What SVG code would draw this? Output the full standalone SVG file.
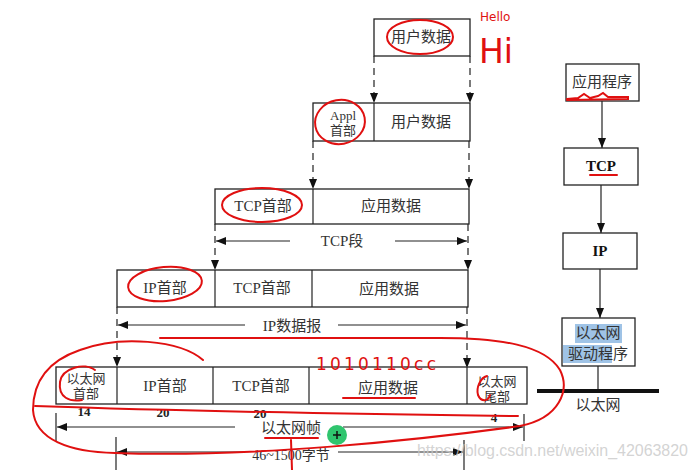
<svg xmlns="http://www.w3.org/2000/svg" width="698" height="470" viewBox="0 0 698 470">
<defs>
<marker id="ah" viewBox="0 0 10 8" refX="10" refY="4" markerWidth="10" markerHeight="8" markerUnits="userSpaceOnUse" orient="auto">
<path d="M0,0 L10,4 L0,8 Z" fill="#111"/>
</marker>
</defs>
<style>
.box{fill:#fff;stroke:#222;stroke-width:1.3}
.t{font-family:"Liberation Serif","Noto Sans CJK SC",serif;font-size:15px;fill:#333;text-anchor:middle;dominant-baseline:central}
.s{font-size:13px}
.b{font-weight:bold;fill:#111}
.n{font-family:"Liberation Serif",serif;font-size:13px;font-weight:bold;fill:#222;text-anchor:middle;dominant-baseline:central}
.dash{stroke:#222;stroke-width:1.2;stroke-dasharray:7,5;fill:none}
.ln{stroke:#222;stroke-width:1.2;fill:none}
.arr{stroke:#222;stroke-width:1.2;fill:none;marker-end:url(#ah)}
.red{stroke:#e01010;stroke-width:2;fill:none;stroke-linecap:round}
.rt{font-family:"DejaVu Sans",sans-serif;fill:#e01010}
.hl{fill:#9fc3e6}
</style>
<rect width="698" height="470" fill="#fff"/>

<g id="connectors">
<line class="arr" x1="374" y1="56" x2="374" y2="103" style="stroke-dasharray:7,5"/>
<line class="arr" x1="470" y1="56" x2="470" y2="103" style="stroke-dasharray:7,5"/>
<line class="arr" x1="313" y1="141" x2="313" y2="189" style="stroke-dasharray:7,5"/>
<line class="arr" x1="469" y1="141" x2="469" y2="189" style="stroke-dasharray:7,5"/>
<line class="arr" x1="215" y1="224" x2="215" y2="270" style="stroke-dasharray:7,5"/>
<line class="arr" x1="468" y1="224" x2="468" y2="270" style="stroke-dasharray:7,5"/>
<line class="arr" x1="117" y1="307" x2="117" y2="367" style="stroke-dasharray:7,5"/>
<line class="arr" x1="467" y1="307" x2="467" y2="368" style="stroke-dasharray:7,5"/>
<line class="arr" x1="290" y1="241" x2="216" y2="241"/>
<line class="arr" x1="395" y1="241" x2="467" y2="241"/>
<line class="arr" x1="245" y1="325" x2="118" y2="325"/>
<line class="arr" x1="338" y1="325" x2="466" y2="325"/>
<line class="ln" x1="56" y1="413" x2="56" y2="441"/>
<line class="ln" x1="524" y1="414" x2="524" y2="441"/>
<line class="arr" x1="235" y1="427" x2="57" y2="427"/>
<line class="arr" x1="343" y1="427" x2="523" y2="427"/>
<line class="ln" x1="116" y1="437" x2="116" y2="470"/>
<line class="ln" x1="464" y1="440" x2="464" y2="470"/>
<line class="arr" x1="245" y1="452" x2="117" y2="452"/>
<line class="arr" x1="338" y1="452" x2="463" y2="452"/>
<line class="arr" x1="602" y1="101" x2="602" y2="148"/>
<line class="arr" x1="601" y1="185" x2="601" y2="233"/>
<line class="arr" x1="600" y1="269" x2="600" y2="318"/>
<line class="ln" x1="598" y1="366" x2="598" y2="391"/>
</g>

<g id="user-data">
<rect class="box" x="374" y="19" width="96" height="37"/>
<text class="t" x="421" y="37">用户数据</text>
</g>

<g id="appl-segment">
<rect class="box" x="313" y="103" width="157" height="38"/>
<line class="ln" x1="374" y1="103" x2="374" y2="141"/>
<text class="t s" x="343" y="115">Appl</text>
<text class="t s" x="343" y="130">首部</text>
<text class="t" x="421" y="122">用户数据</text>
</g>

<g id="tcp-segment">
<rect class="box" x="215" y="189" width="254" height="35"/>
<line class="ln" x1="313" y1="189" x2="313" y2="224"/>
<text class="t" x="263" y="206">TCP首部</text>
<text class="t" x="391" y="206">应用数据</text>
<text class="t" x="342" y="241">TCP段</text>
</g>

<g id="ip-datagram">
<rect class="box" x="117" y="270" width="351" height="37"/>
<line class="ln" x1="215" y1="270" x2="215" y2="307"/>
<line class="ln" x1="312" y1="270" x2="312" y2="307"/>
<text class="t" x="165" y="288">IP首部</text>
<text class="t" x="262" y="288">TCP首部</text>
<text class="t" x="389" y="289">应用数据</text>
<text class="t" x="292" y="326">IP数据报</text>
</g>

<g id="ethernet-frame">
<rect class="box" x="56" y="367" width="471" height="37"/>
<line class="ln" x1="117" y1="367" x2="117" y2="404"/>
<line class="ln" x1="213" y1="367" x2="213" y2="404"/>
<line class="ln" x1="309" y1="367" x2="309" y2="404"/>
<line class="ln" x1="467" y1="367" x2="467" y2="404"/>
<text class="t s" x="86" y="378">以太网</text>
<text class="t s" x="86" y="393">首部</text>
<text class="t" x="165" y="386">IP首部</text>
<text class="t" x="261" y="386">TCP首部</text>
<text class="t" x="388" y="388">应用数据</text>
<text class="t s" x="497" y="381">以太网</text>
<text class="t s" x="497" y="396">尾部</text>
<text class="n" x="84" y="411">14</text>
<text class="n" x="163" y="412">20</text>
<text class="n" x="260" y="413">20</text>
<text class="n" x="494" y="417">4</text>
<text class="t" x="291" y="428">以太网帧</text>
<text class="t s" x="291" y="455" style="font-size:14px">46~1500字节</text>
</g>

<g id="app-program">
<rect class="box" x="566" y="64" width="73" height="37"/>
<text class="t" x="602" y="82">应用程序</text>
</g>
<g id="tcp-layer">
<rect class="box" x="564" y="148" width="74" height="37"/>
<text class="t b" x="601" y="166">TCP</text>
</g>
<g id="ip-layer">
<rect class="box" x="563" y="233" width="74" height="36"/>
<text class="t b" x="600" y="251">IP</text>
</g>
<g id="ethernet-driver">
<rect class="box" x="562" y="318" width="73" height="48"/>
<rect class="hl" x="575" y="324" width="47" height="19"/>
<rect class="hl" x="563" y="345" width="49" height="18"/>
<text class="t" x="598" y="333">以太网</text>
<text class="t" x="598" y="354">驱动程序</text>
</g>
<g id="ethernet-bus">
<line x1="537" y1="391" x2="659" y2="391" stroke="#111" stroke-width="4"/>
<text class="t" x="598" y="405">以太网</text>
</g>

<g id="annotations">
<ellipse class="red" cx="420" cy="37" rx="33" ry="17"/>
<ellipse class="red" cx="340" cy="122" rx="25" ry="22" transform="rotate(-10 340 122)"/>
<ellipse class="red" cx="262" cy="205" rx="40" ry="17"/>
<ellipse class="red" cx="165" cy="284" rx="37" ry="17" transform="rotate(-5 165 284)"/>
<path class="red" d="M95,370 C85,362 62,368 60,382 C58,398 70,402 82,400"/>
<path class="red" d="M487,376 C480,378 476,388 478,395 C481,402 488,402 490,395"/>
<path class="red" d="M203,360 C180,340 120,335 80,350 C45,362 33,385 33,410 C35,440 70,452 115,453 C250,458 420,440 520,426 C560,418 570,390 560,370 C545,345 500,338 440,338 L160,338"/>
<path class="red" d="M35,406 C150,410 350,414 518,416"/>
<line class="red" x1="343" y1="398" x2="415" y2="398"/>
<line class="red" x1="265" y1="438" x2="318" y2="438"/>
<line class="red" x1="291" y1="440" x2="292" y2="470"/>
<line class="red" x1="590" y1="175" x2="617" y2="175"/>
<path class="red" d="M567,99 L578,98 L584,94 L590,98 L598,96 L603,93 L608,97 L628,97 L628,99 L567,100"/>
<text class="rt" x="480" y="21" style="font-size:12px">Hello</text>
<text class="rt" x="479" y="63" style="font-size:33px">Hi</text>
<text class="rt" x="316" y="370" style="font-size:17px" textLength="120">1010110cc</text>
</g>

<g id="overlay">
<text x="417" y="456" font-family="Liberation Sans, Arial, sans-serif" font-size="16" fill="#c8c8c8" fill-opacity="0.8" textLength="271">https://blog.csdn.net/weixin_42063820</text>
<circle cx="337" cy="435" r="10" fill="#2fc56e"/>
<path d="M333,435 H341 M337,431 V439" stroke="#111" stroke-width="1.5"/>
</g>
</svg>
